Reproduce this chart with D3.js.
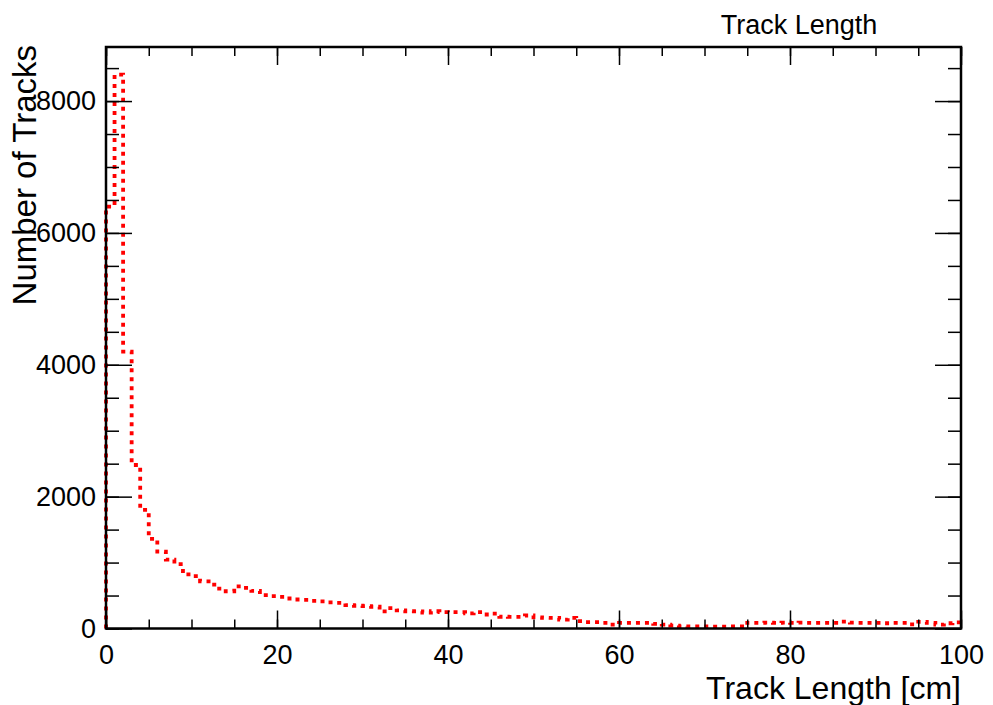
<!DOCTYPE html>
<html>
<head>
<meta charset="utf-8">
<script src="https://cdn.jsdelivr.net/npm/d3@7"></script>
<style>
  body { margin: 0; background: #fff; }
  svg { display: block; font-family: "Liberation Sans", Arial, sans-serif; }
  .axis text { font-size: 27px; fill: #000; }
  .axis line { stroke: #000; stroke-width: 1.5px; }
  .axis path { display: none; }
</style>
</head>
<body>
<div id="chart"></div>
<script>
// histogram: 100 bins of 1 cm from 0 to 100
var binLow = 0, binHigh = 100, binWidth = 1;
var counts = [
  6400, 8400, 4200, 2480, 1800, 1360, 1165, 1045, 975, 820,
  795, 715, 665, 605, 565, 640, 615, 570, 505, 490,
  480, 455, 440, 435, 420, 410, 395, 390, 355, 345,
  340, 330, 260, 310, 275, 262, 260, 242, 262, 248,
  247, 247, 228, 247, 212, 227, 178, 177, 177, 197,
  170, 162, 160, 136, 162, 111, 96, 96, 86, 60,
  86, 86, 86, 86, 71, 60, 45, 32, 30, 30,
  30, 28, 28, 30, 30, 86, 86, 88, 85, 88,
  86, 90, 86, 86, 86, 86, 105, 88, 86, 85,
  86, 80, 86, 86, 62, 100, 86, 60, 80, 92
];
var xMajor = [0, 20, 40, 60, 80, 100];
var yMajor = [0, 2000, 4000, 6000, 8000];
var title = "Track Length";
var xTitle = "Track Length [cm]";
var yTitle = "Number of Tracks";

var W = 993, H = 705;
var frame = {left: 106, right: 961, top: 47, bottom: 628.5};

var yMax = d3.max(counts) * 1.05;

var x = d3.scaleLinear()
    .domain([binLow, binHigh])
    .range([frame.left, frame.right]);

var y = d3.scaleLinear()
    .domain([0, yMax])
    .range([frame.bottom, frame.top]);

var svg = d3.select("#chart").append("svg")
    .attr("width", W)
    .attr("height", H);

// minor ticks every 5 cm / 500 tracks
var xMinor = d3.range(binLow, binHigh + 0.01, 5);
var yMinor = d3.range(0, yMax, 500);

var xMajLen = 18, xMinLen = 9, yMajLen = 26, yMinLen = 13;

// histogram outline first so the frame sits on top
var pts = [[binLow, 0]];
counts.forEach(function(c, i) { pts.push([binLow + i * binWidth, c]); });
pts.push([binHigh, counts[counts.length - 1]]);

var line = d3.line()
    .x(function(d) { return x(d[0]); })
    .y(function(d) { return y(d[1]); })
    .curve(d3.curveStepAfter);

svg.append("path")
    .datum(pts)
    .attr("d", line)
    .attr("fill", "none")
    .attr("stroke", "#ff0000")
    .attr("stroke-width", 3.8)
    .attr("stroke-dasharray", "4,5");

// bottom axis
svg.append("g")
    .attr("class", "axis")
    .attr("transform", "translate(0," + frame.bottom + ")")
    .call(d3.axisBottom(x).tickValues(xMinor).tickSize(-xMinLen).tickFormat(""));
svg.append("g")
    .attr("class", "axis")
    .attr("transform", "translate(0," + frame.bottom + ")")
    .call(d3.axisBottom(x).tickValues(xMajor).tickSize(-xMajLen).tickPadding(16).tickFormat(d3.format("d")));

// top axis (mirror, no labels)
svg.append("g")
    .attr("class", "axis")
    .attr("transform", "translate(0," + frame.top + ")")
    .call(d3.axisTop(x).tickValues(xMinor).tickSize(-xMinLen).tickFormat(""));
svg.append("g")
    .attr("class", "axis")
    .attr("transform", "translate(0," + frame.top + ")")
    .call(d3.axisTop(x).tickValues(xMajor).tickSize(-xMajLen).tickFormat(""));

// left axis
svg.append("g")
    .attr("class", "axis")
    .attr("transform", "translate(" + frame.left + ",0)")
    .call(d3.axisLeft(y).tickValues(yMinor).tickSize(-yMinLen).tickFormat(""));
svg.append("g")
    .attr("class", "axis")
    .attr("transform", "translate(" + frame.left + ",0)")
    .call(d3.axisLeft(y).tickValues(yMajor).tickSize(-yMajLen).tickPadding(10).tickFormat(d3.format("d")));

// right axis (mirror)
svg.append("g")
    .attr("class", "axis")
    .attr("transform", "translate(" + frame.right + ",0)")
    .call(d3.axisRight(y).tickValues(yMinor).tickSize(-yMinLen).tickFormat(""));
svg.append("g")
    .attr("class", "axis")
    .attr("transform", "translate(" + frame.right + ",0)")
    .call(d3.axisRight(y).tickValues(yMajor).tickSize(-yMajLen).tickFormat(""));

// frame
svg.append("rect")
    .attr("x", frame.left)
    .attr("y", frame.top)
    .attr("width", frame.right - frame.left)
    .attr("height", frame.bottom - frame.top)
    .attr("fill", "none")
    .attr("stroke", "#000")
    .attr("stroke-width", 2.5);

// titles
svg.append("text")
    .attr("x", 799)
    .attr("y", 34)
    .attr("text-anchor", "middle")
    .style("font-size", "27px")
    .text(title);

svg.append("text")
    .attr("x", frame.right)
    .attr("y", 699)
    .attr("text-anchor", "end")
    .style("font-size", "32px")
    .text(xTitle);

svg.append("text")
    .attr("transform", "translate(36," + (frame.top - 2) + ") rotate(-90)")
    .attr("text-anchor", "end")
    .style("font-size", "33px")
    .text(yTitle);
</script>
</body>
</html>
